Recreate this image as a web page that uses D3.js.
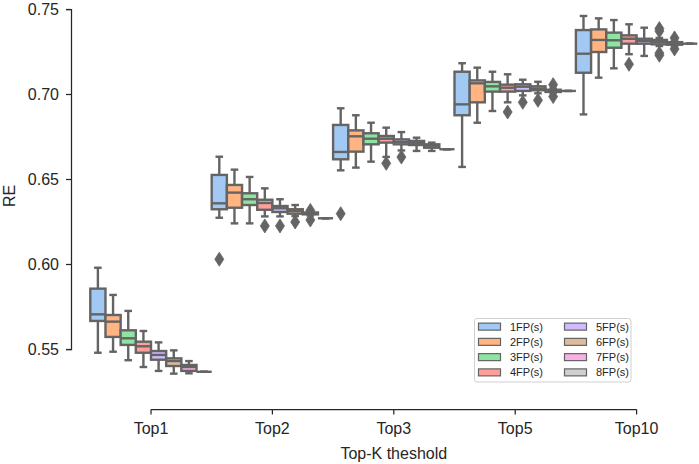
<!DOCTYPE html>
<html>
<head>
<meta charset="utf-8">
<script src="https://cdn.jsdelivr.net/npm/d3@7/dist/d3.min.js"></script>
<style>
  html, body { margin: 0; padding: 0; background: #fff; }
  svg { display: block; font-family: "Liberation Sans", Arial, sans-serif; }
</style>
</head>
<body>
<svg id="chart" width="699" height="464"></svg>
<script>
// ---------------- data ----------------
const categories = ["Top1", "Top2", "Top3", "Top5", "Top10"];
const hues = ["1FP(s)", "2FP(s)", "3FP(s)", "4FP(s)", "5FP(s)", "6FP(s)", "7FP(s)", "8FP(s)"];
const colors = ["#a1c9f4", "#ffb482", "#8de5a1", "#ff9f9b", "#d0bbff", "#debb9b", "#fab0e4", "#cfcfcf"];
const yTicks = [0.55, 0.60, 0.65, 0.70, 0.75];

// rows = categories, columns = hues
const whiskerLow = [
  [0.5478, 0.5484, 0.5434, 0.5394, 0.5371, 0.5355, 0.5357, 0.5366],
  [0.6272, 0.6239, 0.6239, 0.6280, 0.6280, 0.6282, 0.6285, 0.6269],
  [0.6551, 0.6567, 0.6602, 0.6630, 0.6668, 0.6665, 0.6665, 0.6675],
  [0.6571, 0.6831, 0.6900, 0.6951, 0.6992, 0.7004, 0.7008, 0.7018],
  [0.6880, 0.7096, 0.7151, 0.7234, 0.7224, 0.7282, 0.7283, 0.7296]
];
const q1 = [
  [0.5665, 0.5571, 0.5524, 0.5478, 0.5437, 0.5400, 0.5371, 0.5366],
  [0.6322, 0.6331, 0.6347, 0.6319, 0.6306, 0.6296, 0.6292, 0.6269],
  [0.6616, 0.6661, 0.6704, 0.6714, 0.6704, 0.6700, 0.6684, 0.6675],
  [0.6875, 0.6951, 0.7014, 0.7014, 0.7018, 0.7022, 0.7012, 0.7018],
  [0.7125, 0.7247, 0.7272, 0.7296, 0.7296, 0.7292, 0.7290, 0.7296]
];
const medians = [
  [0.5704, 0.5661, 0.5563, 0.5516, 0.5465, 0.5429, 0.5394, 0.5366],
  [0.6357, 0.6420, 0.6381, 0.6359, 0.6328, 0.6312, 0.6298, 0.6269],
  [0.6659, 0.6751, 0.6737, 0.6737, 0.6718, 0.6712, 0.6696, 0.6675],
  [0.6939, 0.7063, 0.7045, 0.7037, 0.7043, 0.7032, 0.7018, 0.7018],
  [0.7237, 0.7318, 0.7316, 0.7325, 0.7312, 0.7306, 0.7298, 0.7296]
];
const q3 = [
  [0.5855, 0.5700, 0.5610, 0.5543, 0.5488, 0.5445, 0.5406, 0.5366],
  [0.6524, 0.6465, 0.6416, 0.6378, 0.6341, 0.6322, 0.6303, 0.6269],
  [0.6818, 0.6786, 0.6769, 0.6753, 0.6733, 0.6724, 0.6704, 0.6675],
  [0.7131, 0.7080, 0.7071, 0.7055, 0.7057, 0.7045, 0.7025, 0.7018],
  [0.7376, 0.7380, 0.7361, 0.7345, 0.7325, 0.7318, 0.7305, 0.7296]
];
const whiskerHigh = [
  [0.5978, 0.5818, 0.5724, 0.5606, 0.5539, 0.5492, 0.5429, 0.5366],
  [0.6631, 0.6555, 0.6512, 0.6445, 0.6381, 0.6347, 0.6310, 0.6269],
  [0.6916, 0.6875, 0.6831, 0.6802, 0.6776, 0.6743, 0.6714, 0.6675],
  [0.7181, 0.7155, 0.7131, 0.7116, 0.7084, 0.7072, 0.7032, 0.7018],
  [0.7459, 0.7445, 0.7435, 0.7410, 0.7390, 0.7330, 0.7312, 0.7296]
];
// outliers: [category, hue, value]
const outliers = [
  ["Top2", "1FP(s)", 0.6028],
  ["Top2", "4FP(s)", 0.6224],
  ["Top2", "5FP(s)", 0.6224],
  ["Top2", "6FP(s)", 0.6247],
  ["Top2", "7FP(s)", 0.6315],
  ["Top2", "7FP(s)", 0.6259],
  ["Top3", "1FP(s)", 0.6296],
  ["Top3", "4FP(s)", 0.6592],
  ["Top3", "5FP(s)", 0.6629],
  ["Top5", "4FP(s)", 0.6894],
  ["Top5", "5FP(s)", 0.6951],
  ["Top5", "6FP(s)", 0.6963],
  ["Top5", "7FP(s)", 0.7055],
  ["Top5", "7FP(s)", 0.6985],
  ["Top10", "4FP(s)", 0.7175],
  ["Top10", "6FP(s)", 0.7385],
  ["Top10", "6FP(s)", 0.7370],
  ["Top10", "6FP(s)", 0.7240],
  ["Top10", "6FP(s)", 0.7228],
  ["Top10", "7FP(s)", 0.7330],
  ["Top10", "7FP(s)", 0.7265]
];

// ---------------- drawing ----------------
const svg = d3.select("#chart");
const ink = "#262626";
const gray = "#646464";

const x = d3.scaleBand().domain(categories).range([90.3, 697.3]).padding(0);
const xh = d3.scaleBand().domain(hues).range([0, x.bandwidth()]).padding(0);
const y = d3.scaleLinear().domain([0.55, 0.75]).range([349, 9]);
const color = d3.scaleOrdinal().domain(hues).range(colors);

// boxes
const boxes = [];
categories.forEach((c, i) => {
  hues.forEach((h, j) => {
    boxes.push({c, h, wl: whiskerLow[i][j], q1: q1[i][j], med: medians[i][j], q3: q3[i][j], wh: whiskerHigh[i][j]});
  });
});

const lw = 2.4;
const g = svg.append("g");
const bw = xh.bandwidth();
const bg = g.selectAll("g.box").data(boxes).enter().append("g").attr("class", "box")
  .attr("transform", d => `translate(${x(d.c) + xh(d.h)},0)`);

// whiskers
bg.append("line").attr("x1", bw / 2).attr("x2", bw / 2)
  .attr("y1", d => y(d.q3)).attr("y2", d => y(d.wh))
  .attr("stroke", gray).attr("stroke-width", lw);
bg.append("line").attr("x1", bw / 2).attr("x2", bw / 2)
  .attr("y1", d => y(d.q1)).attr("y2", d => y(d.wl))
  .attr("stroke", gray).attr("stroke-width", lw);
// caps
bg.append("line").attr("x1", bw / 4).attr("x2", bw * 3 / 4)
  .attr("y1", d => y(d.wh)).attr("y2", d => y(d.wh))
  .attr("stroke", gray).attr("stroke-width", lw);
bg.append("line").attr("x1", bw / 4).attr("x2", bw * 3 / 4)
  .attr("y1", d => y(d.wl)).attr("y2", d => y(d.wl))
  .attr("stroke", gray).attr("stroke-width", lw);
// box
bg.append("rect").attr("x", 0).attr("width", bw)
  .attr("y", d => y(d.q3)).attr("height", d => Math.max(0, y(d.q1) - y(d.q3)))
  .attr("fill", d => color(d.h)).attr("stroke", gray).attr("stroke-width", lw);
// median
bg.append("line").attr("x1", 0).attr("x2", bw)
  .attr("y1", d => y(d.med)).attr("y2", d => y(d.med))
  .attr("stroke", gray).attr("stroke-width", lw);

// outliers (thin diamonds)
const dh = 7, dw = 4.5;
g.selectAll("path.flier").data(outliers).enter().append("path").attr("class", "flier")
  .attr("d", d => {
    const cx = x(d[0]) + xh(d[1]) + bw / 2, cy = y(d[2]);
    return `M${cx},${cy - dh}L${cx + dw},${cy}L${cx},${cy + dh}L${cx - dw},${cy}Z`;
  })
  .attr("fill", gray).attr("stroke", gray).attr("stroke-width", 0.8);

// y axis
const yAxis = d3.axisLeft(y).tickValues(yTicks).tickFormat(d3.format(".2f")).tickSizeOuter(0).tickSize(5).tickPadding(7);
const ya = svg.append("g").attr("transform", "translate(71,0)").call(yAxis);
ya.select(".domain").attr("stroke", ink).attr("stroke-width", 1.25);
ya.selectAll(".tick line").attr("stroke", ink).attr("stroke-width", 1.25);
ya.selectAll(".tick text").attr("fill", ink).style("font-size", "16px").style("font-family", "'Liberation Sans', Arial, sans-serif");

// x axis
const xAxis = d3.axisBottom(x).tickSizeOuter(0).tickSize(5).tickPadding(8);
const xa = svg.append("g").attr("transform", "translate(0,409.5)").call(xAxis);
xa.select(".domain").remove();
xa.append("line")
  .attr("x1", x(categories[0]) + x.bandwidth() / 2)
  .attr("x2", x(categories[categories.length - 1]) + x.bandwidth() / 2)
  .attr("stroke", ink).attr("stroke-width", 1.25);
xa.selectAll(".tick line").attr("stroke", ink).attr("stroke-width", 1.25);
xa.selectAll(".tick text").attr("fill", ink).style("font-size", "16px").style("font-family", "'Liberation Sans', Arial, sans-serif");

// axis titles
svg.append("text").attr("x", x(categories[2]) + x.bandwidth() / 2).attr("y", 459)
  .attr("text-anchor", "middle").attr("fill", ink).style("font-size", "16px")
  .text("Top-K theshold");
svg.append("text").attr("transform", "translate(15,196) rotate(-90)")
  .attr("text-anchor", "middle").attr("fill", ink).style("font-size", "16px")
  .text("RE");

// legend
const lg = svg.append("g");
lg.append("rect").attr("x", 474.5).attr("y", 318.5).attr("width", 156.5).attr("height", 63.5)
  .attr("rx", 2.5).attr("fill", "#fff").attr("fill-opacity", 0.8)
  .attr("stroke", "#d0d0d0").attr("stroke-width", 1);
const rowY = d3.scaleBand().domain(d3.range(4)).range([319, 380]);
const colX = d3.scaleBand().domain(d3.range(2)).range([478, 564 + (564 - 478)]);
const li = lg.selectAll("g.item").data(hues).enter().append("g").attr("class", "item")
  .attr("transform", (d, i) => `translate(${colX(Math.floor(i / 4))},${rowY(i % 4) + rowY.bandwidth() / 2})`);
li.append("rect").attr("x", 0.5).attr("y", -3.5).attr("width", 22).attr("height", 7)
  .attr("fill", d => color(d)).attr("stroke", gray).attr("stroke-width", 1.2);
li.append("text").attr("x", 32).attr("y", 0).attr("dy", "0.36em")
  .attr("fill", ink).style("font-size", "11px").text(d => d);
</script>
</body>
</html>
